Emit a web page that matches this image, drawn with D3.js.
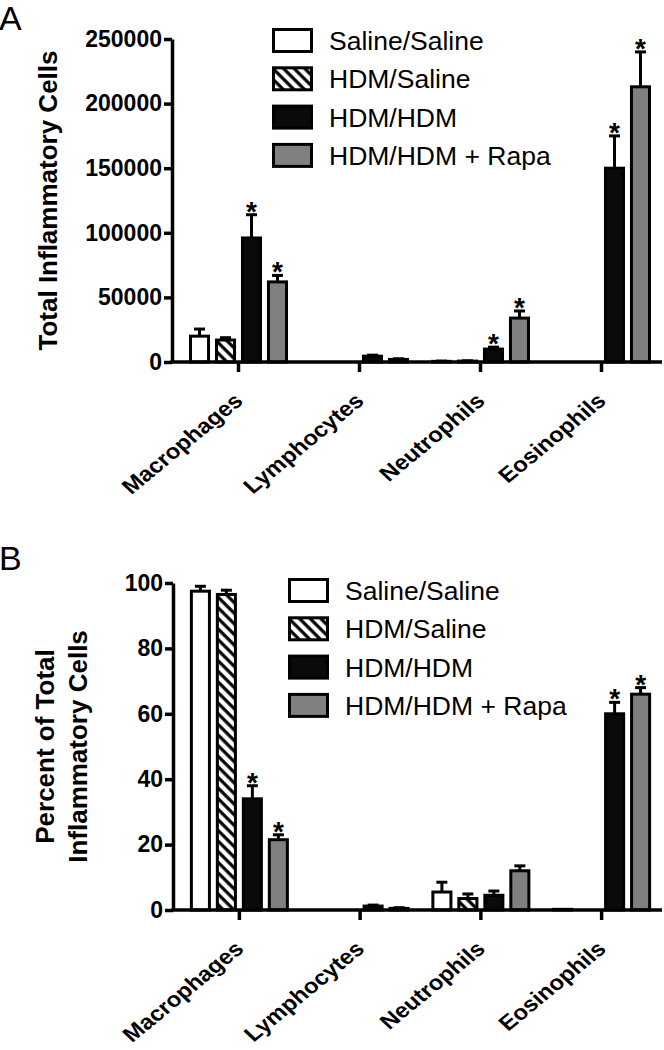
<!DOCTYPE html>
<html>
<head>
<meta charset="utf-8">
<script src="https://cdn.jsdelivr.net/npm/d3@7"></script>
<style>
  body { margin: 0; background: #fff; }
  svg { display: block; font-family: "Liberation Sans", Arial, Helvetica, sans-serif; }
</style>
</head>
<body>
<svg id="chart" width="664" height="1050"></svg>
<script>
const categories = ["Macrophages", "Lymphocytes", "Neutrophils", "Eosinophils"];
const groups = ["Saline/Saline", "HDM/Saline", "HDM/HDM", "HDM/HDM + Rapa"];

// panel A: total inflammatory cells (mean, SEM)
const totalTicks = [0, 50000, 100000, 150000, 200000, 250000];
const totalSalineSaline = [20000, 0, 500, 0];
const totalSalineSalineErr = [5500, 0, 200, 0];
const totalHdmSaline = [17000, 0, 700, 0];
const totalHdmSalineErr = [1800, 0, 200, 0];
const totalHdmHdm = [96000, 4500, 10000, 150000];
const totalHdmHdmErr = [18000, 800, 1500, 25000];
const totalHdmRapa = [62000, 2000, 34000, 213000];
const totalHdmRapaErr = [5000, 500, 5500, 27000];
const totalStars = [[0, 0, 0, 0], [0, 0, 0, 0], [1, 0, 1, 1], [1, 0, 1, 1]];

// panel B: percent of total inflammatory cells (mean, SEM)
const pctTicks = [0, 20, 40, 60, 80, 100];
const pctSalineSaline = [97.5, 0, 5.5, 0.2];
const pctSalineSalineErr = [1.5, 0, 3, 0];
const pctHdmSaline = [96.5, 0, 3.5, 0];
const pctHdmSalineErr = [1.3, 0, 1.4, 0];
const pctHdmHdm = [34, 1.2, 4.5, 60];
const pctHdmHdmErr = [4, 0.3, 1.3, 3.5];
const pctHdmRapa = [21.5, 0.5, 12, 66];
const pctHdmRapaErr = [1.5, 0.2, 1.5, 2];
const pctStars = [[0, 0, 0, 0], [0, 0, 0, 0], [1, 0, 0, 1], [1, 0, 0, 1]];

const fills = ["#ffffff", "url(#hatch)", "#0a0a0a", "#808080"];

const svg = d3.select("#chart");

// diagonal hatch for HDM/Saline
const defs = svg.append("defs");
defs.append("pattern")
    .attr("id", "hatch")
    .attr("patternUnits", "userSpaceOnUse")
    .attr("width", 7.5).attr("height", 7.5)
    .attr("patternTransform", "rotate(-45)")
  .call(p => {
    p.append("rect").attr("width", 7.5).attr("height", 7.5).attr("fill", "#fff");
    p.append("line").attr("x1", 2).attr("y1", 0).attr("x2", 2).attr("y2", 7.5)
      .attr("stroke", "#000").attr("stroke-width", 3.2);
  });

function drawPanel(p) {
    const g = svg.append("g");
    const x = d3.scaleBand().domain(categories).range([p.left + 6, p.right]);
    const xs = d3.scaleBand().domain(groups).range([-49.5, 49.5]).paddingInner(0.19);
    const y = d3.scaleLinear().domain([0, p.max]).range([p.bottom, p.top]);

    const rows = [];
    groups.forEach((grp, gi) => {
        categories.forEach((cat, ci) => {
            rows.push({ grp, gi, cat, v: p.means[gi][ci], e: p.errs[gi][ci], s: p.stars[gi][ci] });
        });
    });
    const cx = d => x(d.cat) + x.bandwidth() / 2 + xs(d.grp) + xs.bandwidth() / 2;
    const half = 5.5;

    // error bars (upper only)
    const eb = g.append("g").attr("stroke", "#000").attr("stroke-width", 3);
    rows.filter(d => d.e > 0).forEach(d => {
        eb.append("line").attr("x1", cx(d)).attr("x2", cx(d))
          .attr("y1", y(d.v)).attr("y2", y(d.v + d.e));
        eb.append("line").attr("x1", cx(d) - half).attr("x2", cx(d) + half)
          .attr("y1", y(d.v + d.e)).attr("y2", y(d.v + d.e));
    });

    g.append("g").selectAll("rect")
      .data(rows.filter(d => d.v > 0))
      .join("rect")
        .attr("x", d => cx(d) - xs.bandwidth() / 2 + 1.5)
        .attr("width", xs.bandwidth() - 3)
        .attr("y", d => y(d.v))
        .attr("height", d => y(0) - y(d.v))
        .attr("fill", d => fills[d.gi])
        .attr("stroke", "#000")
        .attr("stroke-width", 3);

    g.append("g").selectAll("text")
      .data(rows.filter(d => d.s))
      .join("text")
        .attr("x", d => cx(d))
        .attr("y", d => y(d.v + d.e) + 6)
        .attr("text-anchor", "middle")
        .attr("font-weight", "bold")
        .attr("font-size", 28)
        .text("*");

    // y axis
    const ya = g.append("g")
        .attr("transform", `translate(${p.left},0)`)
        .call(d3.axisLeft(y).tickValues(p.ticks).tickFormat(d3.format("d")).tickSize(8).tickSizeOuter(0).tickPadding(2));
    ya.select(".domain").attr("stroke-width", 3.5);
    ya.selectAll(".tick line").attr("stroke-width", 3.5);
    ya.selectAll(".tick text").attr("font-size", 23).attr("font-weight", "bold")
      .attr("font-family", "Liberation Sans, Arial, sans-serif").attr("fill", "#000");

    // x axis
    const xa = g.append("g")
        .attr("transform", `translate(0,${p.bottom})`)
        .call(d3.axisBottom(x).tickSize(10).tickSizeOuter(0).tickFormat(""));
    xa.select(".domain").remove();
    xa.selectAll(".tick line").attr("stroke-width", 3.5);
    xa.append("line").attr("x1", p.left - 1.75).attr("x2", p.right)
      .attr("y1", 0).attr("y2", 0).attr("stroke", "#000").attr("stroke-width", 3.5);
    xa.selectAll(".tick").append("text")
        .attr("fill", "#000")
        .attr("font-size", 24).attr("font-weight", "bold")
        .attr("font-family", "Liberation Sans, Arial, sans-serif")
        .attr("text-anchor", "end")
        .attr("transform", "translate(0,35) scale(1,0.88) rotate(-43)")
        .attr("dy", "0.35em")
        .text(d => d);

    // y title
    const mid = (p.top + p.bottom) / 2;
    const t = g.append("text")
        .attr("transform", `translate(${p.titleX},${mid}) rotate(-90)`)
        .attr("text-anchor", "middle")
        .attr("font-weight", "bold")
        .attr("font-size", 26);
    p.title.forEach((line, i) => {
        t.append("tspan").attr("x", 0).attr("y", (i - (p.title.length - 1)) * 33 + 0).text(line);
    });

    // legend
    const lg = g.append("g").attr("transform", `translate(${p.legX},${p.legY})`);
    groups.forEach((grp, i) => {
        lg.append("rect").attr("x", 1.5).attr("y", i * 38.3 + 1.5)
          .attr("width", 38).attr("height", 22)
          .attr("fill", fills[i]).attr("stroke", "#000").attr("stroke-width", 3);
        lg.append("text").attr("x", 57).attr("y", i * 38.3 + 12.5)
          .attr("dy", "0.36em").attr("font-size", 26.5).text(grp);
    });

    // panel letter
    g.append("text").attr("x", -1).attr("y", p.letterY)
      .attr("font-size", 34).text(p.letter);
}

drawPanel({
    letter: "A", letterY: 30,
    left: 172, right: 662, top: 39, bottom: 362, max: 250000,
    ticks: totalTicks,
    means: [totalSalineSaline, totalHdmSaline, totalHdmHdm, totalHdmRapa],
    errs: [totalSalineSalineErr, totalHdmSalineErr, totalHdmHdmErr, totalHdmRapaErr],
    stars: totalStars,
    title: ["Total Inflammatory Cells"], titleX: 57,
    legX: 272, legY: 28
});

drawPanel({
    letter: "B", letterY: 570,
    left: 173, right: 662, top: 583, bottom: 910, max: 100,
    ticks: pctTicks,
    means: [pctSalineSaline, pctHdmSaline, pctHdmHdm, pctHdmRapa],
    errs: [pctSalineSalineErr, pctHdmSalineErr, pctHdmHdmErr, pctHdmRapaErr],
    stars: pctStars,
    title: ["Percent of Total", "Inflammatory Cells"], titleX: 87,
    legX: 288, legY: 578
});
</script>
</body>
</html>
